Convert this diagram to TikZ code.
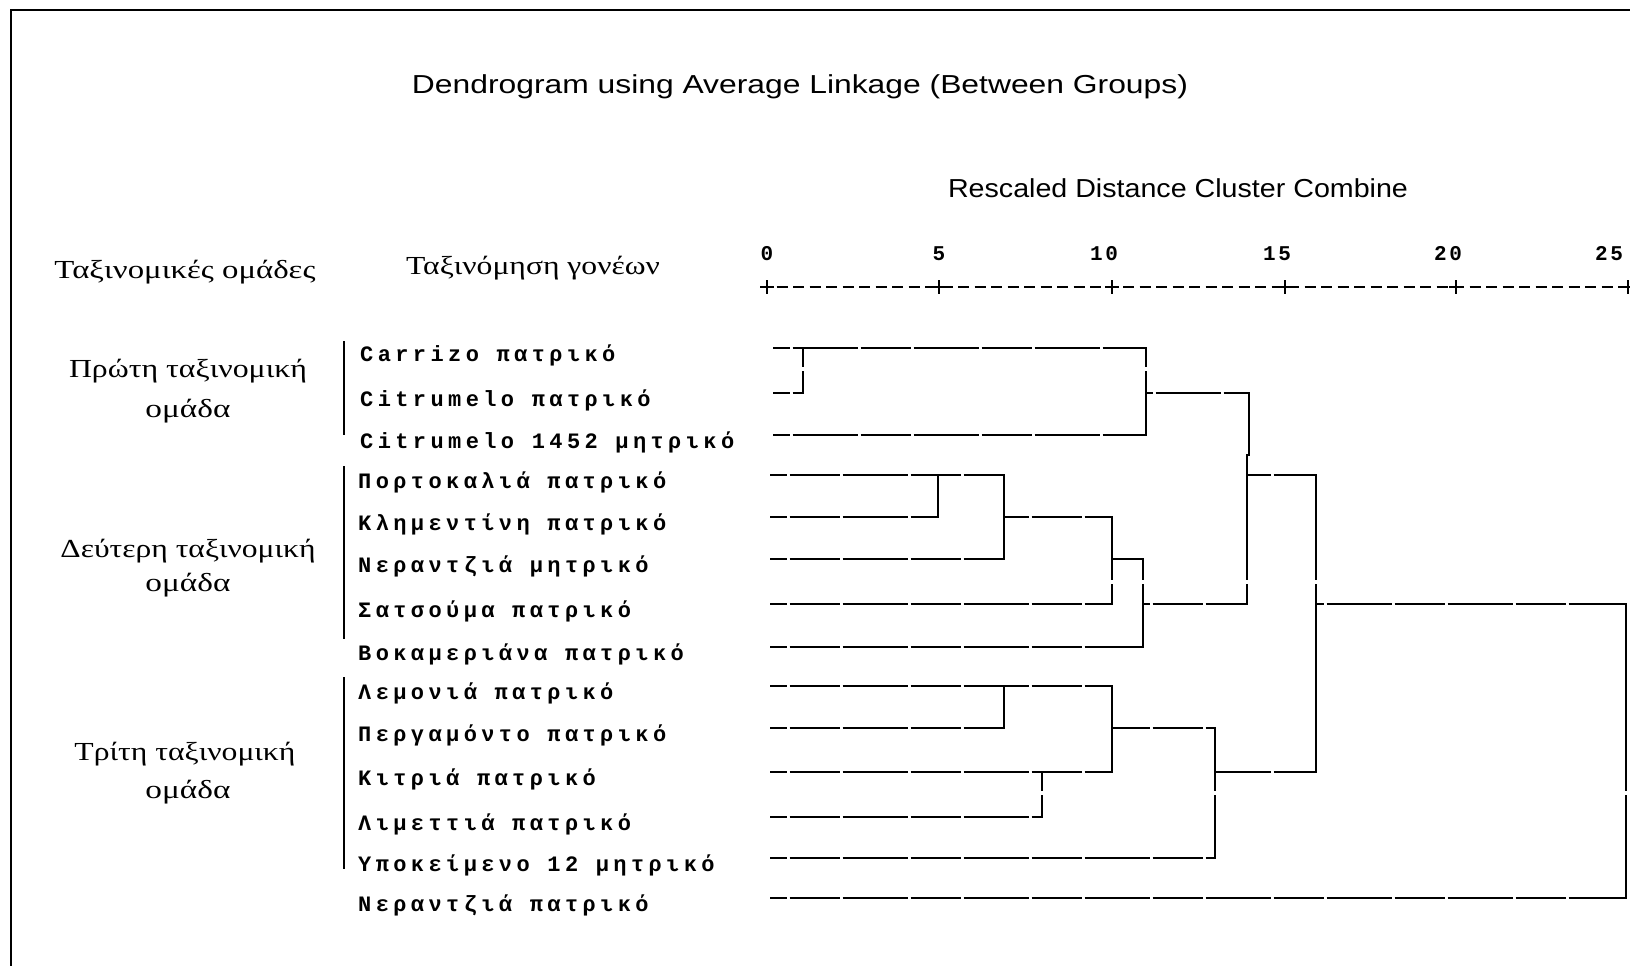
\documentclass[tikz,border=0pt]{standalone}
\usepackage{fontspec}
\usepackage{graphicx}
\setmainfont{Liberation Serif}
\newfontfamily\labfont[LetterSpace=20]{Liberation Mono}
\newfontfamily\axfont[LetterSpace=12]{Liberation Mono}
\newfontfamily\titfont{Liberation Sans}
% horizontal dendrogram line on a fixed column grid: #2 = grid offset
\newcommand\hseg[5][]{\pgfmathsetmacro\myph{mod(#3-#2+1210,121)}\draw[hl,dash phase=\myph pt,#1] (#3,#5) -- (#4,#5);}
\newcommand\fitw[2]{\resizebox{#1pt}{\height}{#2}}
\begin{document}
\begin{tikzpicture}[x=1pt,y=-1pt,
  hl/.style={line width=2pt,dash pattern=on 50pt off 3pt on 65pt off 3pt},
  thinhl/.style={line width=1.4pt},
  vl/.style={line width=2pt,line cap=rect},
  lab/.style={anchor=west,inner sep=0pt,font=\labfont\bfseries\fontsize{22}{24}\selectfont,text height=14pt,text depth=4pt},
  grp/.style={inner sep=0pt,font=\fontsize{26}{28}\selectfont},
  ttl/.style={inner sep=0pt,font=\titfont\fontsize{26}{28}\selectfont},
  axn/.style={inner sep=0pt,font=\axfont\bfseries\fontsize{21}{23}\selectfont},
  axtick/.style={line width=2.5pt},
  axd/.style={line width=2pt,dash pattern=on 11pt off 5.5pt},
  bar/.style={line width=2pt}]
\useasboundingbox (0,0) rectangle (1630,966);
% frame
\draw[line width=2pt] (11,966) -- (11,10) -- (1630,10);
% titles
\node[ttl] (title) at (800,87) {\fitw{776}{Dendrogram using Average Linkage (Between Groups)}};
\node[ttl] (rescaled) at (1178,188) {\fitw{460}{Rescaled Distance Cluster Combine}};
% headers
\node[grp] (h1) at (185,272) {\fitw{261}{Ταξινομικές ομάδες}};
\node[grp] (h2) at (533,268) {\fitw{254}{Ταξινόμηση γονέων}};
% group labels
\node[grp] (g1a) at (188,371) {\fitw{238}{Πρώτη ταξινομική}};
\node[grp] (g1b) at (188,411) {\fitw{85}{ομάδα}};
\node[grp] (g2a) at (188,551) {\fitw{255}{Δεύτερη ταξινομική}};
\node[grp] (g2b) at (188,585) {\fitw{85}{ομάδα}};
\node[grp] (g3a) at (185,754) {\fitw{221}{Τρίτη ταξινομική}};
\node[grp] (g3b) at (188,792) {\fitw{85}{ομάδα}};
% group bars
\draw[bar] (344,341) -- (344,435);
\draw[bar] (344,466) -- (344,639);
\draw[bar] (344,677) -- (344,869);
% leaf labels
\node[lab] (l1) at (360,356) {Carrizo πατρικό};
\node[lab] (l2) at (360,401) {Citrumelo πατρικό};
\node[lab] (l3) at (360,443) {Citrumelo 1452 μητρικό};
\node[lab] (l4) at (358,483) {Πορτοκαλιά πατρικό};
\node[lab] (l5) at (358,525) {Κλημεντίνη πατρικό};
\node[lab] (l6) at (358,567) {Νεραντζιά μητρικό};
\node[lab] (l7) at (358,612) {Σατσούμα πατρικό};
\node[lab] (l8) at (358,655) {Βοκαμεριάνα πατρικό};
\node[lab] (l9) at (358,694) {Λεμονιά πατρικό};
\node[lab] (l10) at (358,736) {Περγαμόντο πατρικό};
\node[lab] (l11) at (358,780) {Κιτριά πατρικό};
\node[lab] (l12) at (358,825) {Λιμεττιά πατρικό};
\node[lab] (l13) at (358,866) {Υποκείμενο 12 μητρικό};
\node[lab] (l14) at (358,906) {Νεραντζιά πατρικό};
% axis
\draw[axd] (760,287) -- (1630,287);
\foreach \x in {767,939,1112,1285,1456,1628}
  \draw[axtick] (\x-7,287) -- (\x+7,287) (\x,280) -- (\x,294);
\node[axn] (a0) at (767,254) {0};
\node[axn] (a5) at (939,254) {5};
\node[axn] (a10) at (1104,254) {10};
\node[axn] (a15) at (1277,254) {15};
\node[axn] (a20) at (1448,254) {20};
\node[axn] (a25) at (1609,254) {25};
% horizontals, top block
\hseg{739.5}{773}{1146}{348}
\hseg{739.5}{773}{803}{393}
\hseg{739.5}{773}{1146}{435}
\hseg{739.5}{1146}{1249}{393}
% horizontals, lower block
\hseg{668.5}{770}{1004}{475}
\hseg{668.5}{770}{938}{517}
\hseg{668.5}{1004}{1112}{517}
\hseg{668.5}{770}{1004}{559}
\hseg{668.5}{1112}{1143}{559}
\hseg{668.5}{770}{1112}{604}
\hseg{668.5}{1143}{1247}{604}
\hseg{668.5}{770}{1143}{647}
\hseg[thinhl]{668.5}{1247}{1316}{475}
\hseg{668.5}{770}{1112}{686}
\hseg{668.5}{770}{1004}{728}
\hseg{668.5}{1112}{1215}{728}
\hseg{668.5}{770}{1112}{772}
\hseg{668.5}{770}{1042}{817}
\hseg{668.5}{1215}{1316}{772}
\hseg{668.5}{770}{1215}{858}
\hseg{668.5}{1316}{1626}{604}
\hseg{668.5}{770}{1626}{898}
% verticals
\draw[vl] (803,348) -- (803,366) (803,372) -- (803,393);
\draw[vl] (1146,348) -- (1146,366) (1146,372) -- (1146,435);
\draw[vl] (1249,393) -- (1249,455) -- (1247,455) -- (1247,579) (1247,585) -- (1247,604);
\draw[vl] (938,475) -- (938,517);
\draw[vl] (1004,475) -- (1004,559);
\draw[vl] (1112,517) -- (1112,579) (1112,585) -- (1112,604);
\draw[vl] (1143,559) -- (1143,579) (1143,585) -- (1143,647);
\draw[vl,line width=1.4pt] (1316,475) -- (1316,579) (1316,585) -- (1316,772);
\draw[vl] (1004,686) -- (1004,728);
\draw[vl] (1042,772) -- (1042,790) (1042,796) -- (1042,817);
\draw[vl] (1112,686) -- (1112,772);
\draw[vl] (1215,728) -- (1215,790) (1215,796) -- (1215,858);
\draw[vl] (1626,604) -- (1626,790) (1626,796) -- (1626,898);
\end{tikzpicture}
\end{document}
